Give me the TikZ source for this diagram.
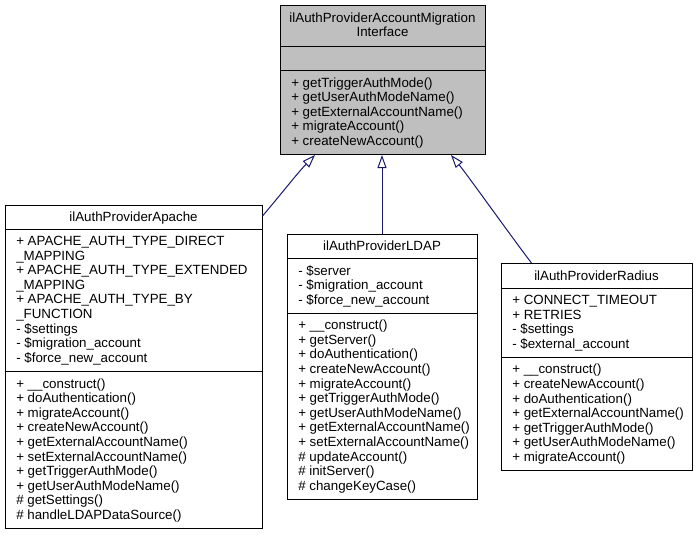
\documentclass[tikz,border=0pt]{standalone}
\usepackage{fontspec}
\setmainfont{Liberation Sans}
\usetikzlibrary{arrows.meta,fit,calc}
\definecolor{edgeblue}{HTML}{191970}
\definecolor{hdrgray}{HTML}{BFBFBF}
\tikzset{
  classbox/.style={draw=black, line width=0.75pt, inner sep=0pt, fill=white},
  txt/.style={inner sep=0pt, font=\fontsize{10pt}{11pt}\selectfont},
  sepline/.style={draw=black, line width=0.75pt},
  inherit/.style={draw=edgeblue, line width=0.75pt, -{Triangle[open, length=9.75pt, width=6.75pt, fill=white]}}
}
\newcommand\seclines[4]{\foreach \t [count=\i] in {#4} {\node[txt, anchor=base west] (#3\i) at (#1, {#2+(\i-1)*14.6}) {\t};}}
\begin{document}
\begin{tikzpicture}[x=0.75pt,y=-0.75pt]
\useasboundingbox (0,0) rectangle (697,536);
% interface
\node[classbox, fill=hdrgray, fit={(280,5) (485,154.5)}] (iface) {};
\draw[sepline] (280,46) -- (485,46);
\draw[sepline] (280,70.5) -- (485,70.5);
\node[txt, anchor=base] (ifacet1) at (382.5,22) {ilAuthProviderAccountMigration};
\node[txt, anchor=base] (ifacet2) at (382.5,36.6) {Interface};
\seclines{291}{87}{ifm}{+ getTriggerAuthMode(), + getUserAuthModeName(), + getExternalAccountName(), + migrateAccount(), + createNewAccount()}
% apache
\node[classbox, fit={(5,205) (262,528.5)}] (apache) {};
\draw[sepline] (5,229) -- (262,229);
\draw[sepline] (5,371.5) -- (262,371.5);
\node[txt, anchor=base] (apachet) at (133.5,221) {ilAuthProviderApache};
\seclines{16}{245.5}{apa}{+ APACHE\_AUTH\_TYPE\_DIRECT, \_MAPPING, + APACHE\_AUTH\_TYPE\_EXTENDED, \_MAPPING, + APACHE\_AUTH\_TYPE\_BY, \_FUNCTION, - \$settings, - \$migration\_account, - \$force\_new\_account}
\seclines{16}{388}{apm}{+ \_\_construct(), + doAuthentication(), + migrateAccount(), + createNewAccount(), + getExternalAccountName(), + setExternalAccountName(), + getTriggerAuthMode(), + getUserAuthModeName(), \# getSettings(), \# handleLDAPDataSource()}
% ldap
\node[classbox, fit={(287,234) (477,499.3)}] (ldap) {};
\draw[sepline] (287,258.5) -- (477,258.5);
\draw[sepline] (287,313.2) -- (477,313.2);
\node[txt, anchor=base] (ldapt) at (382,250.5) {ilAuthProviderLDAP};
\seclines{298}{275}{lda}{- \$server, - \$migration\_account, - \$force\_new\_account}
\seclines{298}{329.7}{ldm}{+ \_\_construct(), + getServer(), + doAuthentication(), + createNewAccount(), + migrateAccount(), + getTriggerAuthMode(), + getUserAuthModeName(), + getExternalAccountName(), + setExternalAccountName(), \# updateAccount(), \# initServer(), \# changeKeyCase()}
% radius
\node[classbox, fit={(501,263.5) (692,470.4)}] (radius) {};
\draw[sepline] (501,288) -- (692,288);
\draw[sepline] (501,357.3) -- (692,357.3);
\node[txt, anchor=base] (radiust) at (596.5,280) {ilAuthProviderRadius};
\seclines{512}{304.5}{raa}{+ CONNECT\_TIMEOUT, + RETRIES, - \$settings, - \$external\_account}
\seclines{512}{373.8}{ram}{+ \_\_construct(), + createNewAccount(), + doAuthentication(), + getExternalAccountName(), + getTriggerAuthMode(), + getUserAuthModeName(), + migrateAccount()}
% inheritance edges
\draw[inherit] ($(apache.north east)+(0,11.5)$) .. controls ($(apache.north east)+(20,-12)$) and ($(iface.south)+(-85,18)$) .. ($(iface.south)+(-67.5,0)$);
\draw[inherit] (ldap.north) -- (ldap.north |- iface.south);
\draw[inherit] ($(radius.north)+(-65,0)$) .. controls ($(radius.north)+(-82,-22)$) and ($(iface.south)+(85,20)$) .. ($(iface.south)+(68.5,0)$);
\end{tikzpicture}
\end{document}
